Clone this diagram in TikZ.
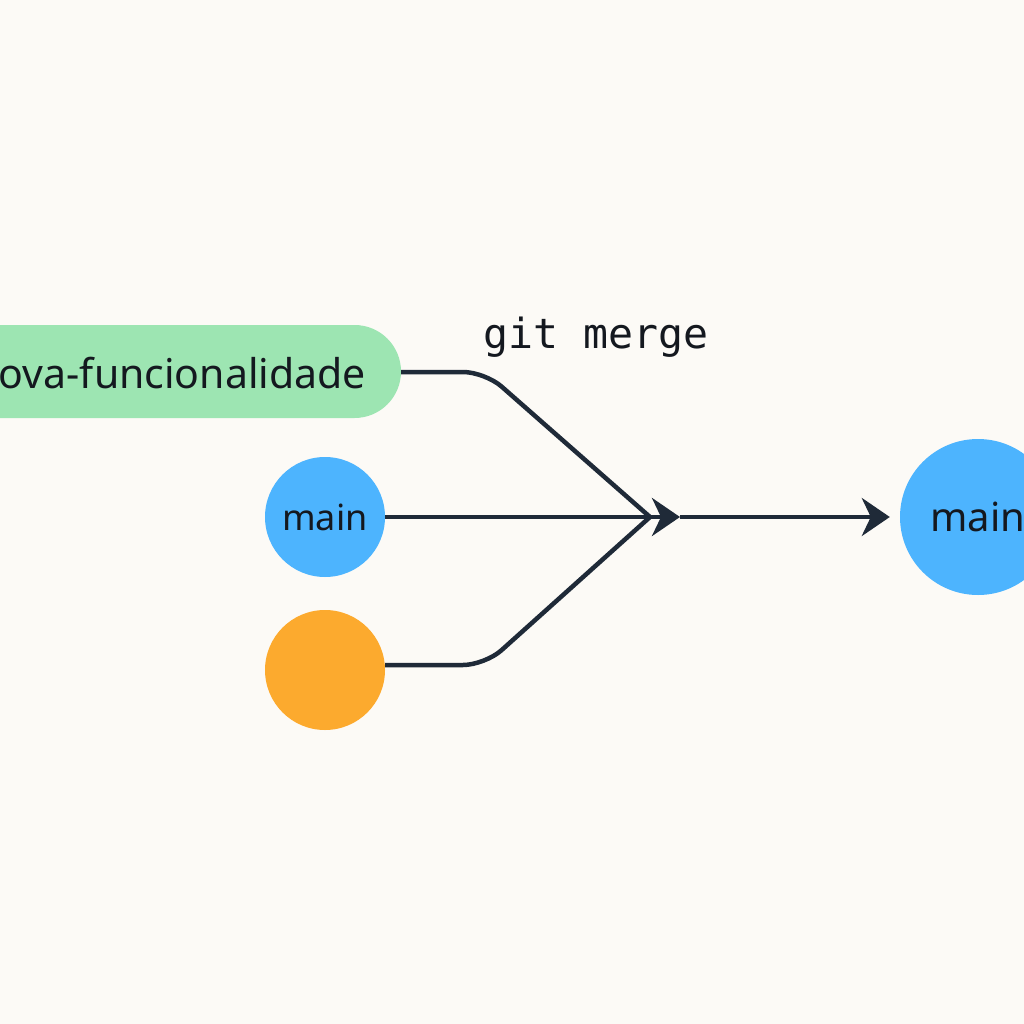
\documentclass[tikz,border=0pt]{standalone}
\usepackage{fontspec}
\setmainfont{Noto Sans}
\newfontfamily\codefont{DejaVu Sans Mono}
\usetikzlibrary{arrows.meta}
\definecolor{bgc}{HTML}{FCFAF6}
\definecolor{greenc}{HTML}{9DE5B2}
\definecolor{bluec}{HTML}{4DB4FE}
\definecolor{orangec}{HTML}{FCAA2E}
\definecolor{linec}{HTML}{1F2A38}
\definecolor{textc}{HTML}{14181F}
\tikzset{
  conn/.style={draw=linec, line width=4.5pt, rounded corners=22pt},
  tip/.style={-{Stealth[length=28pt,width=38pt,inset=9pt]}},
  dot/.style={circle, inner sep=0pt, text=textc},
}
\begin{document}
\begin{tikzpicture}[x=1pt,y=-1pt]
\useasboundingbox[fill=bgc] (0,0) rectangle (1024,1024);
\begin{scope}
\clip (0,0) rectangle (1024,1024);
% green pill
\fill[greenc, rounded corners=46.5pt] (-120,325) rectangle (401,418);
\node[anchor=east, inner sep=0pt, text=textc, font=\fontsize{41}{42}\selectfont] (featlbl) at (366,373) {ova-funcionalidade};
\coordinate (feat) at (401,372);
% circles
\node[dot, fill=bluec, minimum size=120pt, font=\fontsize{36}{37}\selectfont] (m1) at (325,517) {main};
\node[dot, fill=orangec, minimum size=120pt] (o1) at (325,670) {};
\node[dot, fill=bluec, minimum size=156pt, font=\fontsize{40}{42}\selectfont] (m2) at (978,517) {main};
\end{scope}
% label
\node[anchor=base west, inner sep=0pt, text=textc, font=\codefont\fontsize{41.5}{43}\selectfont] (gm) at (483,348) {git merge};
% junction
\coordinate (jin) at (650,517);
\coordinate (j) at (680,517);
\draw[conn] (feat) -- (485,372) -- (jin);
\draw[conn] (o1.east) ++(0,-5) coordinate (oe) (oe) -- (485,665) -- (jin);
\draw[conn, tip] (m1.east) -- (j);
\draw[conn, tip, shorten >=10pt] (j) -- (m2.west);
\end{tikzpicture}
\end{document}
